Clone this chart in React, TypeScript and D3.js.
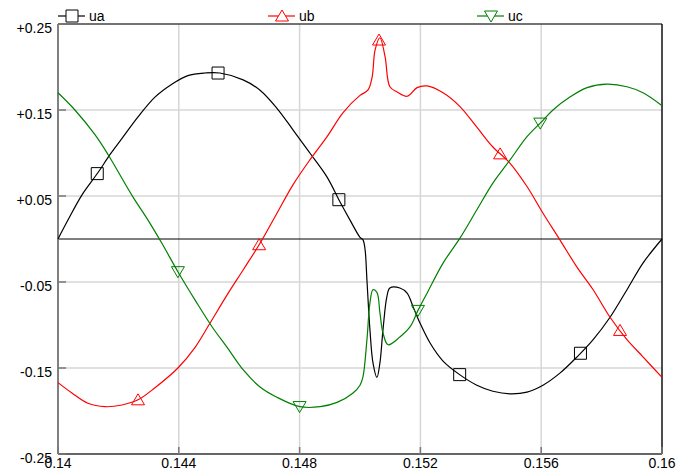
import React from 'react';
import * as d3 from 'd3';

// sampled from the reference trace
const uaT = [0.14, 0.14033, 0.14079, 0.14132, 0.14172, 0.14212, 0.14265, 0.14321, 0.14377, 0.1443, 0.14487, 0.14536, 0.14613, 0.14669, 0.14725, 0.14778, 0.14834, 0.14891, 0.14934, 0.14967, 0.15, 0.1501, 0.15017, 0.15023, 0.15033, 0.15043, 0.15056, 0.15066, 0.15076, 0.15089, 0.15099, 0.15132, 0.15156, 0.15176, 0.15199, 0.15232, 0.15275, 0.15331, 0.15387, 0.1544, 0.15497, 0.15553, 0.15606, 0.15662, 0.15719, 0.15772, 0.15828, 0.15884, 0.15937, 0.16];
const uaV = [0, 0.022, 0.051, 0.077, 0.098, 0.117, 0.142, 0.165, 0.18, 0.19, 0.193, 0.193, 0.185, 0.173, 0.152, 0.127, 0.1, 0.072, 0.043, 0.022, 0.002, -0.001, -0.013, -0.048, -0.106, -0.144, -0.161, -0.144, -0.106, -0.067, -0.057, -0.057, -0.063, -0.079, -0.098, -0.121, -0.142, -0.158, -0.17, -0.177, -0.18, -0.178, -0.17, -0.156, -0.137, -0.117, -0.091, -0.059, -0.028, 0];

const ubT = [0.14, 0.14046, 0.14099, 0.14156, 0.14212, 0.14265, 0.14321, 0.14397, 0.14454, 0.14503, 0.1456, 0.14613, 0.14669, 0.14725, 0.14778, 0.14834, 0.14891, 0.14944, 0.15, 0.15026, 0.1504, 0.1505, 0.15066, 0.15083, 0.15099, 0.15123, 0.15156, 0.15189, 0.15222, 0.15275, 0.15331, 0.15387, 0.1544, 0.15497, 0.15553, 0.15606, 0.15662, 0.15719, 0.15772, 0.15828, 0.15884, 0.15937, 0.16];
const ubV = [-0.167, -0.179, -0.191, -0.195, -0.193, -0.187, -0.173, -0.15, -0.126, -0.098, -0.065, -0.036, -0.005, 0.03, 0.063, 0.092, 0.119, 0.147, 0.167, 0.173, 0.188, 0.22, 0.234, 0.212, 0.177, 0.171, 0.166, 0.176, 0.178, 0.17, 0.154, 0.13, 0.107, 0.088, 0.061, 0.03, -0.001, -0.033, -0.059, -0.091, -0.117, -0.137, -0.161];

const ucT = [0.14, 0.14056, 0.14123, 0.14166, 0.14248, 0.14298, 0.14344, 0.14397, 0.14454, 0.1451, 0.1456, 0.14613, 0.14669, 0.14725, 0.14801, 0.14868, 0.14924, 0.14977, 0.15, 0.1501, 0.15023, 0.15033, 0.15043, 0.15056, 0.15066, 0.15076, 0.15093, 0.15132, 0.15166, 0.15192, 0.15222, 0.15275, 0.15331, 0.15387, 0.1544, 0.15497, 0.15553, 0.15606, 0.15639, 0.15695, 0.15752, 0.15818, 0.15884, 0.15937, 0.16];
const ucV = [0.17, 0.15, 0.121, 0.098, 0.049, 0.022, -0.005, -0.038, -0.071, -0.102, -0.126, -0.152, -0.172, -0.184, -0.195, -0.195, -0.19, -0.179, -0.17, -0.16, -0.117, -0.074, -0.059, -0.062, -0.086, -0.109, -0.123, -0.114, -0.102, -0.083, -0.063, -0.028, 0.001, 0.034, 0.065, 0.092, 0.119, 0.138, 0.15, 0.165, 0.176, 0.18, 0.177, 0.17, 0.155];

const uaMarks = [0.1413, 0.1453, 0.1493, 0.1533, 0.1573];
const ubMarks = [0.14265, 0.14666, 0.15063, 0.15464, 0.15861];
const ucMarks = [0.14397, 0.148, 0.15192, 0.15597];

const xTicks = [0.14, 0.144, 0.148, 0.152, 0.156, 0.16];
const yTicks = [0.25, 0.15, 0.05, -0.05, -0.15, -0.25];
const xLabels = ['0.14', '0.144', '0.148', '0.152', '0.156', '0.16'];
const yLabels = ['+0.25', '+0.15', '+0.05', '-0.05', '-0.15', '-0.25'];

const W = 679;
const H = 472;
const margin = { top: 24, right: 17, bottom: 18, left: 58 };
const font = 'Liberation Sans, Arial, sans-serif';

type Marker = 'square' | 'up' | 'down';

function markerPath(kind: Marker, x: number, y: number): string {
  if (kind === 'square') {
    return `M${x - 6},${y - 6}h12v12h-12Z`;
  }
  if (kind === 'up') {
    return `M${x},${y - 6}L${x + 6.5},${y + 5}L${x - 6.5},${y + 5}Z`;
  }
  return `M${x - 6.5},${y - 5}L${x + 6.5},${y - 5}L${x},${y + 6}Z`;
}

function interp(ts: number[], vs: number[], t: number): number {
  const i = Math.max(1, Math.min(ts.length - 1, d3.bisectLeft(ts, t)));
  const a = (t - ts[i - 1]) / (ts[i] - ts[i - 1]);
  return vs[i - 1] + a * (vs[i] - vs[i - 1]);
}

export default function App() {
  const width = W - margin.left - margin.right;
  const height = H - margin.top - margin.bottom;

  const x = d3.scaleLinear().domain([0.14, 0.16]).range([0, width]);
  const y = d3.scaleLinear().domain([-0.25, 0.25]).range([height, 0]);

  const series = [
    { name: 'ua', ts: uaT, vs: uaV, marks: uaMarks, color: '#000000', kind: 'square' as Marker, lx: 0 },
    { name: 'ub', ts: ubT, vs: ubV, marks: ubMarks, color: '#ff0000', kind: 'up' as Marker, lx: 210 },
    { name: 'uc', ts: ucT, vs: ucV, marks: ucMarks, color: '#008000', kind: 'down' as Marker, lx: 419 },
  ];

  const pathFor = (ts: number[], vs: number[]) => {
    const gen = d3
      .line<number>()
      .x(i => x(ts[i]))
      .y(i => y(vs[i]))
      .curve(d3.curveCatmullRom.alpha(0.5));
    return gen(d3.range(ts.length)) || '';
  };

  return (
    <svg
      width={W}
      height={H}
      style={{ position: 'absolute', left: 0, top: 0, background: '#fff' }}
    >
      <g transform={`translate(${margin.left},${margin.top})`}>
        {/* grid */}
        {xTicks.slice(1, -1).map(t => (
          <line key={'gx' + t} x1={x(t)} x2={x(t)} y1={0} y2={height} stroke="#d6d6d6" strokeWidth={1.5} />
        ))}
        {yTicks.slice(1, -1).map(t => (
          <line key={'gy' + t} x1={0} x2={width} y1={y(t)} y2={y(t)} stroke="#d6d6d6" strokeWidth={1.5} />
        ))}
        <line x1={0} x2={width} y1={y(0)} y2={y(0)} stroke="#000" strokeWidth={1} />

        {/* frame */}
        <line x1={0} x2={width} y1={0} y2={0} stroke="#444" strokeWidth={1.5} />
        <line x1={width} x2={width} y1={0} y2={height} stroke="#111" strokeWidth={1.5} />
        <line x1={0} x2={width} y1={height} y2={height} stroke="#666" strokeWidth={2} />
        <line x1={0} x2={0} y1={0} y2={height} stroke="#808080" strokeWidth={2} />
        {xTicks.map(t => (
          <line key={'tx' + t} x1={x(t)} x2={x(t)} y1={height} y2={height - 7} stroke="#777" strokeWidth={1.5} />
        ))}
        {yTicks.map(t => (
          <line key={'ty' + t} x1={0} x2={8} y1={y(t)} y2={y(t)} stroke="#777" strokeWidth={1.5} />
        ))}

        {/* series */}
        {series.map(s => (
          <g key={s.name}>
            <path d={pathFor(s.ts, s.vs)} fill="none" stroke={s.color} strokeWidth={1.2} />
            {s.marks.map(t => (
              <path
                key={t}
                d={markerPath(s.kind, x(t), y(interp(s.ts, s.vs, t)))}
                fill="none"
                stroke={s.color}
                strokeWidth={1}
              />
            ))}
          </g>
        ))}

        {/* axis labels */}
        {yTicks.map((t, i) => (
          <text key={'ly' + t} x={-6} y={y(t) + 9} textAnchor="end" fontFamily={font} fontSize={14} fill="#000">
            {yLabels[i]}
          </text>
        ))}
        {xTicks.map((t, i) => (
          <text key={'lx' + t} x={x(t)} y={height + 14} textAnchor="middle" fontFamily={font} fontSize={14} fill="#000">
            {xLabels[i]}
          </text>
        ))}

        {/* legend */}
        {series.map(s => (
          <g key={'leg' + s.name} transform={`translate(${s.lx},-8)`}>
            <line x1={0} x2={27} y1={0} y2={0} stroke={s.color} strokeWidth={1.2} />
            <path d={markerPath(s.kind, 14, 0)} fill="#fff" stroke={s.color} strokeWidth={1} />
            <text x={31} y={5} fontFamily={font} fontSize={14} fill="#000">
              {s.name}
            </text>
          </g>
        ))}
      </g>
    </svg>
  );
}
